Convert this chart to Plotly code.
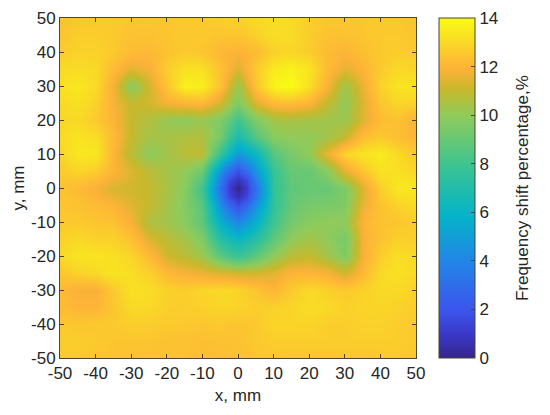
import plotly.graph_objects as go

x_mm = [-50, -45, -40, -35, -30, -25, -20, -15, -10, -5, -2.5, 0, 2.5, 5, 10, 15, 20, 25, 30, 35, 40, 45, 50]
y_mm = [50, 45, 40, 35, 30, 25, 20, 15, 10, 5, 2.5, 0, -2.5, -5, -10, -15, -20, -25, -30, -35, -40, -45, -50]

# frequency shift in %, one row per y value
shift_pct = [
    [12.4, 12.5, 12.6, 12.6, 12.5, 12.5, 12.5, 12.6, 12.6, 12.7, 12.8, 12.8, 12.9, 13.0, 13.1, 13.0, 12.7, 12.5, 12.5, 12.5, 12.6, 12.5, 12.4],
    [12.5, 12.7, 12.7, 12.6, 12.4, 12.4, 12.5, 12.6, 12.6, 12.5, 12.5, 12.5, 12.6, 12.8, 13.1, 13.1, 12.7, 12.4, 12.4, 12.5, 12.6, 12.6, 12.5],
    [12.7, 12.8, 12.8, 12.6, 12.2, 12.1, 12.4, 12.6, 12.5, 12.1, 12.0, 11.9, 12.0, 12.2, 12.8, 12.9, 12.7, 12.2, 12.0, 12.3, 12.6, 12.7, 12.6],
    [13.0, 13.1, 13.0, 12.2, 11.5, 11.8, 12.7, 13.2, 13.2, 12.4, 11.9, 11.4, 12.0, 12.6, 13.5, 13.7, 13.3, 12.2, 11.5, 12.0, 12.6, 13.0, 12.9],
    [13.2, 13.4, 13.0, 11.8, 9.8, 11.2, 12.5, 13.7, 13.6, 12.4, 11.3, 10.2, 11.4, 12.5, 13.8, 14.0, 13.2, 11.9, 10.3, 11.6, 12.8, 13.3, 13.3],
    [13.0, 13.2, 12.8, 11.8, 11.0, 11.2, 11.8, 12.0, 12.1, 11.3, 10.4, 9.6, 10.5, 11.4, 12.2, 12.3, 12.0, 11.0, 10.0, 11.4, 12.5, 12.9, 12.8],
    [12.9, 13.0, 12.6, 12.0, 11.0, 10.6, 10.1, 9.9, 10.2, 9.6, 8.9, 8.0, 8.8, 9.6, 10.4, 10.5, 10.4, 10.3, 10.2, 11.4, 12.2, 12.4, 11.9],
    [13.0, 13.3, 13.1, 12.2, 11.0, 10.4, 10.4, 10.6, 10.6, 9.4, 8.0, 6.8, 7.6, 8.6, 9.8, 10.0, 10.0, 10.3, 11.0, 12.3, 12.6, 12.3, 12.0],
    [12.9, 13.4, 13.4, 12.0, 10.8, 9.9, 10.3, 10.8, 10.9, 7.8, 6.2, 4.8, 5.4, 6.2, 8.6, 9.4, 10.0, 11.6, 12.9, 13.3, 13.5, 13.0, 12.6],
    [12.6, 12.9, 12.7, 12.0, 11.4, 10.8, 10.4, 10.0, 9.2, 4.6, 3.0, 1.8, 3.0, 4.6, 7.8, 9.0, 9.0, 9.8, 11.5, 12.5, 13.2, 13.2, 12.9],
    [12.5, 12.5, 12.2, 11.7, 11.3, 10.9, 10.4, 9.9, 8.5, 3.8, 1.6, 0.8, 1.6, 3.8, 7.7, 8.9, 9.0, 9.4, 10.6, 11.9, 13.0, 13.3, 13.2],
    [12.4, 12.2, 11.8, 11.3, 11.2, 11.0, 10.5, 9.8, 8.0, 3.2, 1.2, 0.0, 1.2, 3.2, 7.6, 8.8, 9.0, 9.0, 9.6, 11.4, 12.7, 13.4, 13.4],
    [12.5, 12.3, 12.0, 11.6, 11.3, 11.0, 10.4, 9.7, 8.3, 3.6, 1.5, 0.7, 1.5, 3.6, 7.6, 8.9, 9.2, 9.2, 9.6, 11.4, 12.6, 13.1, 13.2],
    [12.5, 12.4, 12.2, 12.0, 11.4, 11.0, 10.4, 9.7, 8.6, 4.4, 2.8, 1.6, 2.8, 4.4, 7.6, 9.0, 9.4, 9.4, 9.6, 11.6, 12.4, 12.8, 13.1],
    [12.6, 12.6, 12.5, 12.4, 11.8, 10.6, 10.3, 9.8, 8.8, 5.8, 4.8, 4.0, 4.8, 5.8, 8.0, 9.3, 9.8, 10.0, 10.0, 12.0, 12.4, 12.5, 12.7],
    [12.8, 13.0, 12.8, 12.8, 12.4, 11.4, 10.8, 10.4, 9.6, 7.2, 6.6, 6.2, 6.6, 7.2, 8.8, 10.0, 10.4, 10.0, 9.4, 11.8, 12.4, 12.8, 12.7],
    [13.0, 13.3, 13.3, 13.2, 12.9, 12.2, 11.2, 10.8, 10.3, 8.8, 8.2, 7.8, 8.2, 8.8, 10.0, 10.8, 11.0, 10.4, 9.6, 11.8, 12.7, 13.1, 13.0],
    [12.5, 12.8, 13.0, 13.3, 13.1, 12.8, 12.1, 11.8, 11.6, 11.4, 11.3, 11.2, 11.2, 11.2, 11.5, 12.0, 12.0, 11.8, 11.2, 12.1, 13.0, 13.2, 13.0],
    [12.2, 11.8, 11.8, 12.6, 13.2, 13.1, 12.8, 12.7, 12.9, 13.0, 13.0, 12.9, 12.7, 12.5, 12.0, 12.6, 13.0, 12.8, 12.6, 12.8, 13.0, 13.0, 12.8],
    [12.2, 12.0, 12.0, 12.5, 13.0, 13.0, 12.7, 12.7, 12.8, 12.9, 12.9, 12.8, 12.8, 12.7, 12.8, 12.9, 13.1, 13.0, 12.8, 12.9, 12.9, 12.8, 12.7],
    [12.6, 12.5, 12.6, 12.6, 12.7, 12.7, 12.6, 12.6, 12.5, 12.6, 12.5, 12.5, 12.5, 12.6, 12.9, 12.9, 12.9, 12.7, 12.7, 12.8, 12.8, 12.7, 12.6],
    [12.7, 12.7, 12.6, 12.5, 12.5, 12.5, 12.4, 12.4, 12.3, 12.4, 12.4, 12.4, 12.5, 12.6, 12.7, 12.7, 12.7, 12.7, 12.7, 12.7, 12.7, 12.7, 12.6],
    [12.6, 12.6, 12.5, 12.5, 12.4, 12.4, 12.4, 12.4, 12.3, 12.3, 12.3, 12.4, 12.4, 12.5, 12.6, 12.5, 12.5, 12.5, 12.5, 12.5, 12.6, 12.6, 12.5],
]

axis_ticks = [-50, -40, -30, -20, -10, 0, 10, 20, 30, 40, 50]
axis_tick_labels = ['-50', '-40', '-30', '-20', '-10', '0', '10', '20', '30', '40', '50']
colorbar_ticks = [0, 2, 4, 6, 8, 10, 12, 14]

# parula with the orange band the picture has around 12
colorscale = [
    [0.0, '#35268c'],
    [0.07, '#3a38c8'],
    [0.14, '#3c55ec'],
    [0.28, '#2284e8'],
    [0.42, '#04b4c8'],
    [0.57, '#3ec490'],
    [0.71, '#8ecb5c'],
    [0.79, '#c8b82c'],
    [0.85, '#fdb238'],
    [0.89, '#fcc430'],
    [0.93, '#f9da26'],
    [1.0, '#f9fb15'],
]

font = {'family': 'Liberation Sans, Arial, sans-serif', 'size': 17, 'color': '#262626'}
line_color = '#4a4630'

fig = go.Figure(
    go.Heatmap(
        x=x_mm,
        y=y_mm,
        z=shift_pct,
        zmin=0,
        zmax=14,
        zsmooth='best',
        colorscale=colorscale,
        colorbar={
            'x': 1.065,
            'xanchor': 'left',
            'xpad': 0,
            'ypad': 0,
            'y': 0.5,
            'len': 1,
            'thickness': 36,
            'tickvals': colorbar_ticks,
            'ticks': 'inside',
            'ticklen': 4,
            'tickcolor': line_color,
            'outlinecolor': line_color,
            'outlinewidth': 1,
            'tickfont': font,
        },
    )
)

axis_style = {
    'range': [-50, 50],
    'tickvals': axis_ticks,
    'ticktext': axis_tick_labels,
    'ticks': 'inside',
    'ticklen': 4,
    'tickcolor': line_color,
    'showline': True,
    'linecolor': line_color,
    'linewidth': 1,
    'mirror': 'ticks',
    'showgrid': False,
    'zeroline': False,
    'tickfont': font,
}

# colorbar title sits further out than plotly would put it
fig.add_annotation(
    text='Frequency shift percentage,%',
    xref='paper',
    yref='paper',
    x=1.298,
    y=0.5,
    xanchor='center',
    yanchor='middle',
    textangle=-90,
    showarrow=False,
    font=font,
)

# the page has an 8px body margin, so the figure is smaller than the window
fig.update_layout(
    width=534,
    height=399,
    margin={'l': 52, 'r': 126, 't': 10, 'b': 49, 'autoexpand': False},
    paper_bgcolor='white',
    font=font,
    xaxis={**axis_style, 'title': {'text': 'x, mm', 'font': font, 'standoff': 6}},
    yaxis={**axis_style, 'title': {'text': 'y, mm', 'font': font, 'standoff': 2}},
)

fig.write_html('out.html')
